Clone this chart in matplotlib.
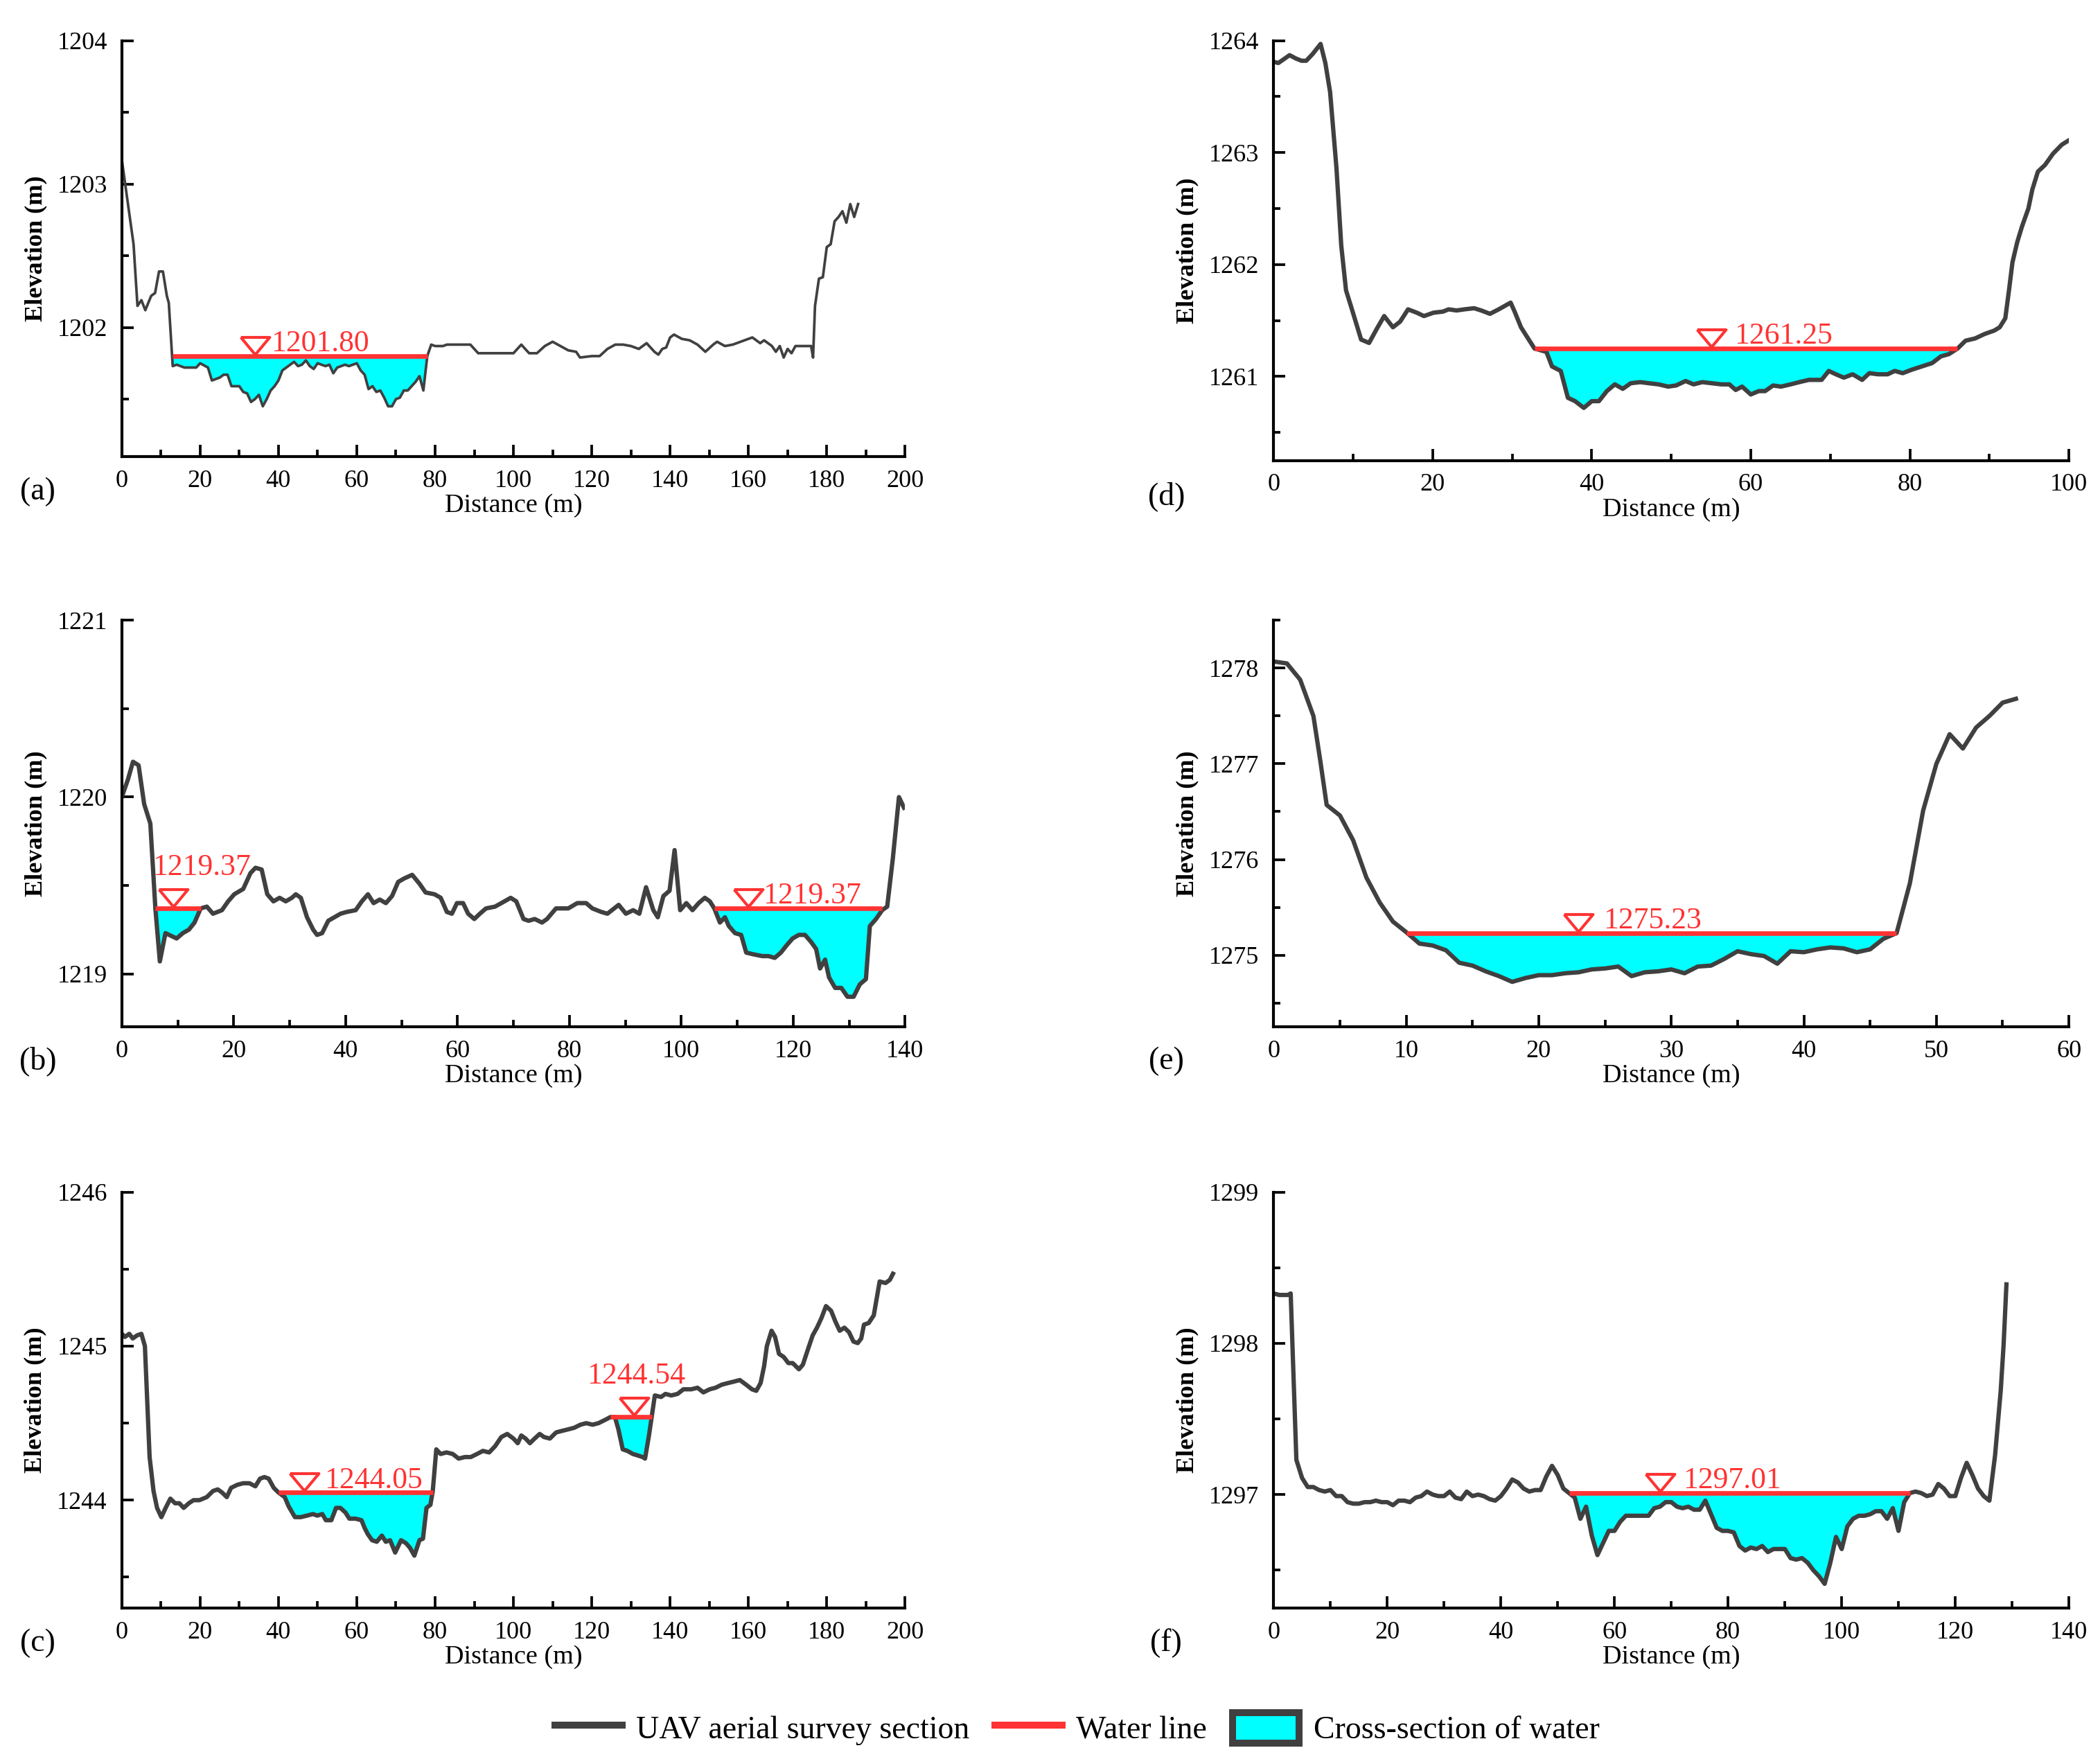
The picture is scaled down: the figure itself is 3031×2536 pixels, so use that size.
import numpy as np
import matplotlib
matplotlib.use("Agg")
import matplotlib.pyplot as plt
from matplotlib.lines import Line2D
from matplotlib.patches import Patch
from matplotlib.ticker import MultipleLocator, StrMethodFormatter
from matplotlib.transforms import offset_copy

plt.rcParams['font.family'] = ['Liberation Serif', 'DejaVu Serif']

GROUND = '#404040'
WATER = '#ff3333'
FILL = '#00ffff'

# ---------------- data ----------------
# (a)
a_dist = [0, 3, 4, 5, 6, 7.5, 8.5, 9.5, 10.5, 11.5, 12, 13, 14, 16, 19, 20, 22, 23, 25, 26,
          27, 28, 30, 31, 32, 33, 34, 35, 36, 37, 38, 39, 40, 41, 43, 44, 45, 46, 47, 48,
          49, 50, 52, 53, 54, 55, 57, 58, 60, 61, 62, 63, 64, 65, 66, 67, 68, 69, 70, 71,
          72, 73, 74, 75, 76, 77, 78, 79, 80, 82, 83, 86, 89, 90, 91, 93, 95, 97, 100, 102,
          104, 106, 108, 110, 112, 114, 116, 117, 120, 122, 124, 126, 128, 130, 132, 134, 136, 137, 138, 139,
          140, 141, 143, 145, 147, 149, 151, 152, 154, 156, 158, 160, 161, 163, 164, 166, 167, 168, 169, 170,
          171, 172, 174, 176, 176.5, 177, 178, 179, 180, 181, 182, 183, 184, 185, 186, 187, 188]
a_elev = [1203.17, 1202.58, 1202.15, 1202.19, 1202.12, 1202.22, 1202.24, 1202.39, 1202.39, 1202.22,
          1202.17, 1201.73, 1201.74, 1201.72, 1201.72, 1201.75, 1201.72, 1201.63, 1201.65, 1201.67,
          1201.67, 1201.59, 1201.59, 1201.55, 1201.54, 1201.48, 1201.50, 1201.53, 1201.45, 1201.50,
          1201.56, 1201.59, 1201.63, 1201.70, 1201.74, 1201.76, 1201.73, 1201.74, 1201.77, 1201.73,
          1201.71, 1201.75, 1201.73, 1201.74, 1201.68, 1201.72, 1201.74, 1201.73, 1201.75, 1201.70,
          1201.67, 1201.57, 1201.59, 1201.55, 1201.56, 1201.51, 1201.45, 1201.45, 1201.50, 1201.51,
          1201.56, 1201.56, 1201.59, 1201.62, 1201.66, 1201.56, 1201.80, 1201.88, 1201.87, 1201.87,
          1201.88, 1201.88, 1201.88, 1201.85, 1201.82, 1201.82, 1201.82, 1201.82, 1201.82, 1201.88,
          1201.82, 1201.82, 1201.87, 1201.90, 1201.87, 1201.84, 1201.83, 1201.79, 1201.80, 1201.80,
          1201.85, 1201.88, 1201.88, 1201.87, 1201.85, 1201.89, 1201.83, 1201.81, 1201.85, 1201.86,
          1201.93, 1201.95, 1201.92, 1201.91, 1201.88, 1201.83, 1201.88, 1201.90, 1201.87, 1201.88,
          1201.90, 1201.92, 1201.93, 1201.89, 1201.91, 1201.87, 1201.83, 1201.87, 1201.79, 1201.85,
          1201.82, 1201.87, 1201.87, 1201.87, 1201.79, 1202.15, 1202.34, 1202.35, 1202.56, 1202.58,
          1202.74, 1202.77, 1202.81, 1202.73, 1202.86, 1202.77, 1202.86]
a_water = [(13, 78, 1201.80)]

# (b)
b_dist = [0, 1.1, 2, 3, 4, 5.1, 6, 6.8, 7.8, 9.8, 10.9, 12, 13, 14.1, 15.2, 16.3, 17.9, 19, 20.1, 21.7,
          23, 23.9, 25, 26, 27.1, 28.2, 29.3, 30.4, 31.1, 32, 33.1, 34.2, 34.9, 35.8, 36.9, 38, 39.1, 40.2, 41.8, 42.9,
          44, 45, 46.1, 47.2, 48.3, 49.4, 50.5, 51.9, 53.2, 54.3, 55.9, 57, 58.1, 59, 59.9, 61, 61.9, 63, 64, 65.1,
          66.7, 68.4, 69.5, 70.5, 71.8, 72.7, 73.8, 75.1, 76, 77.6, 79.8, 81.4, 83, 84.1, 85.7, 86.8, 88.8, 90.1, 91.4, 92.5,
          93.7, 95, 95.8, 96.8, 97.9, 98.8, 99.8, 100.9, 102, 103.1, 104.2, 105.1, 105.9, 106.9, 107.8, 108.5, 109.6, 110.7, 111.6, 112.9,
          114.5, 115.6, 116.7, 117.8, 118.8, 119.9, 121, 122.1, 123.2, 124.1, 124.8, 125.7, 126.4, 127.5, 128.6, 129.7, 130.8, 131.9, 133, 133.7,
          134.8, 135.9, 136.8, 137.8, 138.9, 139.8]
b_elev = [1220.00, 1220.10, 1220.20, 1220.18, 1219.96, 1219.85, 1219.37, 1219.07, 1219.23, 1219.20,
          1219.23, 1219.25, 1219.29, 1219.37, 1219.38, 1219.34, 1219.36, 1219.41, 1219.45, 1219.48,
          1219.57, 1219.60, 1219.59, 1219.45, 1219.41, 1219.43, 1219.41, 1219.43, 1219.45, 1219.43,
          1219.32, 1219.25, 1219.22, 1219.23, 1219.30, 1219.32, 1219.34, 1219.35, 1219.36, 1219.41,
          1219.45, 1219.40, 1219.42, 1219.40, 1219.44, 1219.52, 1219.54, 1219.56, 1219.51, 1219.46,
          1219.45, 1219.43, 1219.35, 1219.34, 1219.40, 1219.40, 1219.34, 1219.31, 1219.34, 1219.37,
          1219.38, 1219.41, 1219.43, 1219.41, 1219.31, 1219.30, 1219.31, 1219.29, 1219.31, 1219.37,
          1219.37, 1219.40, 1219.40, 1219.37, 1219.35, 1219.34, 1219.39, 1219.34, 1219.36, 1219.34,
          1219.49, 1219.36, 1219.32, 1219.44, 1219.47, 1219.70, 1219.36, 1219.40, 1219.36, 1219.40,
          1219.43, 1219.41, 1219.37, 1219.29, 1219.32, 1219.27, 1219.23, 1219.22, 1219.12, 1219.11,
          1219.10, 1219.10, 1219.09, 1219.12, 1219.16, 1219.20, 1219.22, 1219.22, 1219.18, 1219.14,
          1219.03, 1219.08, 1218.98, 1218.92, 1218.92, 1218.87, 1218.87, 1218.94, 1218.97, 1219.27,
          1219.31, 1219.36, 1219.38, 1219.65, 1220.00, 1219.94]
b_water = [(6, 14.1, 1219.37), (105.9, 135.9, 1219.37)]

# (c)
c_dist = [0, 0.8, 1.9, 2.8, 3.9, 5, 5.9, 6.5, 7.1, 8.1, 9, 10.1, 11.2, 12.4, 13.6, 14.7, 15.8, 17.1, 18.3, 19.8,
          21.7, 23.3, 24.5, 25.6, 26.8, 27.9, 29.5, 31, 32.6, 34.1, 35.3, 36.4, 37.5, 38.8, 40, 41.6, 42.6, 44.2, 45.7, 47.3,
          48.8, 49.9, 51.2, 52.1, 53.5, 54.7, 55.8, 57.1, 58.1, 59.7, 61.2, 62, 62.8, 63.9, 65.1, 66.4, 67.4, 68.5, 69.8, 71.3,
          72.6, 73.6, 74.7, 76, 76.9, 77.8, 78.8, 79.4, 80.3, 81.4, 82.9, 84.5, 86, 87.6, 89.1, 90.7, 92.2, 93.8, 95.3, 96.9,
          98.4, 100, 101.1, 102, 103.1, 104.2, 105.4, 106.7, 107.8, 109.3, 110.9, 112.4, 114, 115.5, 117.1, 118.6, 120.2, 121.7, 123.3, 124.8,
          125.9, 126.8, 127.9, 129.1, 130.5, 131.8, 133, 133.6, 134.6, 135.3, 136.1, 137.7, 138.8, 140.3, 141.9, 143.4, 145.4, 147, 148.5, 150.1,
          151.6, 153.2, 154.7, 156.3, 157.8, 159.4, 160.9, 162, 163.1, 164, 164.7, 165.9, 166.8, 167.8, 169, 170.2, 171.3, 172.9, 173.9, 175.2,
          176.4, 177.5, 178.6, 179.8, 181.1, 182.2, 183.3, 184.5, 185.7, 186.8, 187.9, 188.8, 189.5, 190.7, 192, 193.5, 195, 196.1, 196.9]
c_elev = [1245.08, 1245.06, 1245.08, 1245.05, 1245.07, 1245.08, 1245.00, 1244.64, 1244.28, 1244.06,
          1243.95, 1243.89, 1243.95, 1244.01, 1243.98, 1243.98, 1243.95, 1243.98, 1244.00, 1244.00,
          1244.02, 1244.06, 1244.07, 1244.05, 1244.02, 1244.08, 1244.10, 1244.11, 1244.11, 1244.09,
          1244.14, 1244.15, 1244.14, 1244.08, 1244.05, 1244.02, 1243.96, 1243.89, 1243.89, 1243.90,
          1243.91, 1243.90, 1243.91, 1243.87, 1243.87, 1243.95, 1243.95, 1243.92, 1243.88, 1243.88,
          1243.87, 1243.82, 1243.78, 1243.74, 1243.73, 1243.77, 1243.73, 1243.74, 1243.66, 1243.74,
          1243.72, 1243.69, 1243.64, 1243.74, 1243.75, 1243.95, 1243.97, 1244.06, 1244.33, 1244.30,
          1244.31, 1244.30, 1244.27, 1244.28, 1244.28, 1244.30, 1244.32, 1244.31, 1244.35, 1244.41,
          1244.43, 1244.40, 1244.37, 1244.42, 1244.40, 1244.37, 1244.40, 1244.43, 1244.41, 1244.40,
          1244.44, 1244.45, 1244.46, 1244.47, 1244.49, 1244.50, 1244.49, 1244.50, 1244.52, 1244.54,
          1244.54, 1244.46, 1244.33, 1244.32, 1244.30, 1244.29, 1244.28, 1244.27, 1244.42, 1244.54,
          1244.68, 1244.67, 1244.69, 1244.68, 1244.69, 1244.72, 1244.72, 1244.73, 1244.70, 1244.72,
          1244.73, 1244.75, 1244.76, 1244.77, 1244.78, 1244.75, 1244.72, 1244.71, 1244.76, 1244.87,
          1245.00, 1245.10, 1245.06, 1244.95, 1244.93, 1244.89, 1244.89, 1244.85, 1244.88, 1244.98,
          1245.07, 1245.12, 1245.18, 1245.26, 1245.23, 1245.16, 1245.10, 1245.12, 1245.09, 1245.03,
          1245.02, 1245.05, 1245.14, 1245.15, 1245.20, 1245.42, 1245.41, 1245.43, 1245.47]
c_water = [(40, 79.4, 1244.05), (124.8, 135.3, 1244.54)]

# (d)
d_dist = [0, 0.6, 1.2, 2, 2.8, 3.5, 4.1, 4.9, 5.9, 6.5, 7.1, 7.9, 8.5, 9.1, 9.8, 10.4, 11, 12, 13, 13.9,
          15, 15.9, 16.9, 18, 18.9, 20.1, 21.3, 22, 23, 24, 25.2, 26.1, 27.2, 28.3, 29.8, 30.3, 31.1, 31.9, 32.8, 34.3,
          35, 36.1, 37, 37.9, 39, 40, 40.9, 41.9, 42.9, 43.9, 44.9, 46.1, 47.2, 48.4, 49.6, 50.6, 51.8, 52.8, 53.9, 55.1,
          56.3, 57.3, 58.1, 58.9, 60, 61, 61.8, 62.8, 63.8, 65, 66.1, 67.3, 68.9, 69.8, 70.7, 71.7, 72.8, 74, 74.9, 76,
          77.2, 78.1, 79.1, 80.2, 81.5, 82.8, 83.9, 84.9, 86, 87, 88.2, 89.4, 90.6, 91.3, 92, 92.5, 92.9, 93.5, 94.1, 94.9,
          95.4, 96.1, 97, 98, 99.1, 100]
d_elev = [1263.81, 1263.80, 1263.83, 1263.87, 1263.84, 1263.82, 1263.82, 1263.88, 1263.97, 1263.80,
          1263.54, 1262.86, 1262.17, 1261.77, 1261.61, 1261.47, 1261.33, 1261.30, 1261.43, 1261.54,
          1261.44, 1261.49, 1261.60, 1261.57, 1261.54, 1261.57, 1261.58, 1261.60, 1261.59, 1261.60,
          1261.61, 1261.59, 1261.56, 1261.60, 1261.66, 1261.58, 1261.44, 1261.35, 1261.25, 1261.22,
          1261.09, 1261.05, 1260.81, 1260.78, 1260.72, 1260.78, 1260.78, 1260.87, 1260.93, 1260.89,
          1260.94, 1260.95, 1260.94, 1260.93, 1260.91, 1260.92, 1260.96, 1260.93, 1260.95, 1260.94,
          1260.93, 1260.93, 1260.88, 1260.91, 1260.84, 1260.87, 1260.87, 1260.92, 1260.91, 1260.93,
          1260.95, 1260.97, 1260.97, 1261.05, 1261.02, 1260.99, 1261.02, 1260.97, 1261.03, 1261.02,
          1261.02, 1261.05, 1261.03, 1261.06, 1261.09, 1261.12, 1261.18, 1261.20, 1261.25, 1261.32,
          1261.34, 1261.38, 1261.41, 1261.44, 1261.52, 1261.79, 1262.02, 1262.20, 1262.34, 1262.50,
          1262.67, 1262.83, 1262.89, 1262.99, 1263.07, 1263.11]
d_water = [(32.8, 86, 1261.25)]

# (e)
e_dist = [0, 1, 2, 3, 3.5, 4, 5, 6, 7, 8, 9, 10, 11, 12, 13, 14, 15, 16, 17, 18,
          19, 20, 21, 22, 23, 24, 25, 26, 27, 28, 29, 30, 31, 32, 33, 34, 35, 36, 37, 38,
          39, 40, 41, 42, 43, 44, 45, 46, 47, 48, 49, 50, 51, 52, 53, 54, 55, 56]
e_elev = [1278.07, 1278.05, 1277.88, 1277.50, 1277.05, 1276.57, 1276.46, 1276.20, 1275.81, 1275.55,
          1275.35, 1275.24, 1275.12, 1275.10, 1275.05, 1274.92, 1274.89, 1274.83, 1274.78, 1274.72,
          1274.76, 1274.79, 1274.79, 1274.81, 1274.82, 1274.85, 1274.86, 1274.88, 1274.78, 1274.82,
          1274.83, 1274.85, 1274.81, 1274.88, 1274.89, 1274.96, 1275.04, 1275.01, 1274.99, 1274.91,
          1275.04, 1275.03, 1275.06, 1275.08, 1275.07, 1275.03, 1275.06, 1275.17, 1275.23, 1275.75,
          1276.51, 1277.00, 1277.31, 1277.16, 1277.38, 1277.50, 1277.64, 1277.68]
e_water = [(10, 47, 1275.23)]

# (f)
f_dist = [0, 1, 2.5, 3, 4, 5, 6, 7, 8, 9, 10, 11, 12, 13, 14, 15, 16, 17, 18, 19,
          20, 21, 22, 23, 24, 25, 26, 27, 28, 29, 30, 31, 32, 33, 34, 35, 36, 37, 38, 39,
          40, 41, 42, 43, 44, 45, 46, 47, 48, 49, 50, 51, 52, 53, 54, 55, 56, 57, 58, 59,
          60, 61, 62, 63, 64, 65, 66, 67, 68, 69, 70, 71, 72, 73, 74, 75, 76, 77, 78, 79,
          80, 81, 82, 83, 84, 85, 86, 87, 88, 89, 90, 91, 92, 93, 94, 95, 96, 97, 98, 99,
          100, 101, 102, 103, 104, 105, 106, 107, 108, 109, 110, 111, 112, 113, 114, 115, 116, 117, 118, 119,
          120, 121, 122, 123, 124, 125, 126, 127, 128, 128.5, 129]
f_elev = [1298.33, 1298.32, 1298.32, 1298.33, 1297.23, 1297.11, 1297.05, 1297.05, 1297.03, 1297.02,
          1297.03, 1296.99, 1296.99, 1296.95, 1296.94, 1296.94, 1296.95, 1296.95, 1296.96, 1296.95,
          1296.95, 1296.93, 1296.96, 1296.96, 1296.95, 1296.98, 1296.99, 1297.02, 1297.00, 1296.99,
          1296.99, 1297.02, 1296.98, 1296.97, 1297.02, 1296.99, 1297.00, 1296.99, 1296.97, 1296.96,
          1296.99, 1297.04, 1297.10, 1297.08, 1297.04, 1297.02, 1297.03, 1297.03, 1297.12, 1297.19,
          1297.13, 1297.04, 1297.01, 1296.98, 1296.84, 1296.92, 1296.73, 1296.60, 1296.68, 1296.76,
          1296.76, 1296.82, 1296.86, 1296.86, 1296.86, 1296.86, 1296.86, 1296.91, 1296.92, 1296.95,
          1296.95, 1296.92, 1296.91, 1296.92, 1296.90, 1296.90, 1296.96, 1296.87, 1296.78, 1296.76,
          1296.76, 1296.75, 1296.66, 1296.63, 1296.65, 1296.64, 1296.66, 1296.62, 1296.64, 1296.64,
          1296.64, 1296.58, 1296.57, 1296.58, 1296.55, 1296.50, 1296.46, 1296.41, 1296.55, 1296.72,
          1296.64, 1296.79, 1296.84, 1296.86, 1296.86, 1296.87, 1296.89, 1296.89, 1296.84, 1296.91,
          1296.76, 1296.95, 1297.01, 1297.02, 1297.01, 1296.99, 1297.00, 1297.07, 1297.04, 1296.99,
          1296.99, 1297.11, 1297.21, 1297.13, 1297.04, 1296.99, 1296.96, 1297.26, 1297.69, 1297.99,
          1298.39]
f_water = [(52, 112, 1297.01)]

# water-level labels: (triangle x, level, text, mode, offset/centre)
a_labels = [(34, 1201.80, '1201.80', 'right', 5.5)]
b_labels = [(9.2, 1219.37, '1219.37', 'above', 14.3), (112, 1219.37, '1219.37', 'right', 5.0)]
c_labels = [(46.5, 1244.05, '1244.05', 'right', 7.0), (130.7, 1244.54, '1244.54', 'above', 131.3)]
d_labels = [(55, 1261.25, '1261.25', 'right', 8.0)]
e_labels = [(23, 1275.23, '1275.23', 'right', 8.5)]
f_labels = [(68, 1297.01, '1297.01', 'right', 8.0)]

panels = [
    dict(tag='(a)', dist=a_dist, elev=a_elev, water=a_water, labels=a_labels,
         xlim=(0, 200), xmaj=20, ylim=(1201.1, 1204), lw=0.9,
         rect=[0.058, 0.7402, 0.373, 0.2367], tagx=-0.107),
    dict(tag='(b)', dist=b_dist, elev=b_elev, water=b_water, labels=b_labels,
         xlim=(0, 140), xmaj=20, ylim=(1218.7, 1221), lw=1.5,
         rect=[0.058, 0.4156, 0.373, 0.2313], tagx=-0.107),
    dict(tag='(c)', dist=c_dist, elev=c_elev, water=c_water, labels=c_labels,
         xlim=(0, 200), xmaj=20, ylim=(1243.3, 1246), lw=1.5,
         rect=[0.058, 0.0848, 0.373, 0.2367], tagx=-0.107),
    dict(tag='(d)', dist=d_dist, elev=d_elev, water=d_water, labels=d_labels,
         xlim=(0, 100), xmaj=20, ylim=(1260.25, 1264), lw=1.5,
         rect=[0.6065, 0.7379, 0.3787, 0.2390], tagx=-0.135),
    dict(tag='(e)', dist=e_dist, elev=e_elev, water=e_water, labels=e_labels,
         xlim=(0, 60), xmaj=10, ylim=(1274.25, 1278.5), lw=1.5,
         rect=[0.6065, 0.4156, 0.3787, 0.2313], tagx=-0.135),
    dict(tag='(f)', dist=f_dist, elev=f_elev, water=f_water, labels=f_labels,
         xlim=(0, 140), xmaj=20, ylim=(1296.25, 1299), lw=1.5,
         rect=[0.6065, 0.0848, 0.3787, 0.2367], tagx=-0.135),
]

tri = [(-1, 0.6), (1, 0.6), (0, -0.6), (-1, 0.6)]

fig = plt.figure(figsize=(3031 / 300, 2536 / 300), dpi=300)

for p in panels:
    ax = fig.add_axes(p['rect'])
    x = np.array(p['dist'])
    y = np.array(p['elev'])

    for xs, xe, lvl in p['water']:
        m = (x >= xs) & (x <= xe)
        ax.fill_between(x[m], np.minimum(y[m], lvl), lvl, color=FILL, lw=0, zorder=1)

    ax.plot(x, y, color=GROUND, lw=p['lw'], zorder=2, solid_joinstyle='round')

    for xs, xe, lvl in p['water']:
        ax.plot([xs, xe], [lvl, lvl], color=WATER, lw=1.6, zorder=3, solid_capstyle='butt')

    for xt, lvl, txt, mode, off in p['labels']:
        tr = offset_copy(ax.transData, fig=fig, x=0, y=3.6, units='points')
        ax.plot([xt], [lvl], marker=tri, ms=10, mfc='none', mec=WATER, mew=1.0,
                transform=tr, zorder=4, clip_on=False)
        if mode == 'right':
            ax.annotate(txt, xy=(xt, lvl), xytext=(off, 1.6), textcoords='offset points',
                        ha='left', va='baseline', color=WATER, fontsize=10.5)
        else:
            ax.annotate(txt, xy=(off, lvl), xytext=(0, 11.5), textcoords='offset points',
                        ha='center', va='baseline', color=WATER, fontsize=10.5)

    ax.set_xlim(*p['xlim'])
    ax.set_ylim(*p['ylim'])
    ax.xaxis.set_major_locator(MultipleLocator(p['xmaj']))
    ax.xaxis.set_minor_locator(MultipleLocator(p['xmaj'] / 2))
    ax.yaxis.set_major_locator(MultipleLocator(1))
    ax.yaxis.set_minor_locator(MultipleLocator(0.5))
    ax.yaxis.set_major_formatter(StrMethodFormatter('{x:.0f}'))
    ax.xaxis.set_major_formatter(StrMethodFormatter('{x:.0f}'))

    for s in ['top', 'right']:
        ax.spines[s].set_visible(False)
    for s in ['left', 'bottom']:
        ax.spines[s].set_linewidth(1.0)

    ax.tick_params(axis='both', which='both', direction='in', width=0.9, labelsize=8.7)
    ax.tick_params(axis='both', which='major', length=4.0)
    ax.tick_params(axis='both', which='minor', length=2.3)
    ax.tick_params(axis='x', which='major', pad=4.5)
    ax.tick_params(axis='y', which='major', pad=5.0)

    ax.set_xlabel('Distance (m)', fontsize=9.2, labelpad=0.5)
    ax.set_ylabel('Elevation (m)', fontsize=8.7, fontweight='bold', labelpad=3.5)
    ax.text(p['tagx'], -0.085, p['tag'], transform=ax.transAxes, ha='center', va='center',
            fontsize=11)

handles = [Line2D([], [], color=GROUND, lw=2.4),
           Line2D([], [], color=WATER, lw=2.4),
           Patch(facecolor=FILL, edgecolor=GROUND, lw=2.4)]
names = ['UAV aerial survey section', 'Water line', 'Cross-section of water']
fig.legend(handles, names, loc='center', bbox_to_anchor=(0.513, 0.016), ncol=3,
           frameon=False, fontsize=11, handlelength=2.1, handleheight=1.1,
           handletextpad=0.45, columnspacing=0.8)

fig.savefig('out.png', dpi=300)
